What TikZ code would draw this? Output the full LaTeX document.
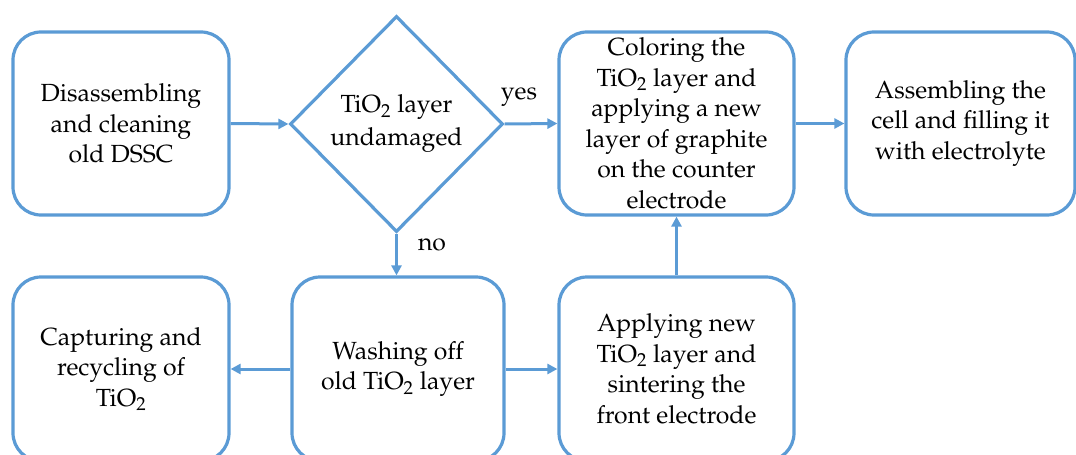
\documentclass[tikz,border=0pt]{standalone}
\usepackage[T1]{fontenc}
\usepackage{mathpazo}
\usetikzlibrary{shapes.geometric,arrows.meta}
\definecolor{flowblue}{RGB}{91,155,213}
\tikzset{
  stepbox/.style={draw=flowblue, line width=3.2pt, rounded corners=28pt, align=center,
    font=\fontsize{24.8}{30.5}\selectfont, inner sep=0pt, fill=white},
  decision/.style={draw=flowblue, line width=3.2pt, shape=diamond, align=center,
    font=\fontsize{24.8}{33}\selectfont, inner sep=0pt, minimum width=213pt, minimum height=216pt},
  flow/.style={draw=flowblue, line width=3pt, -{Triangle[length=10pt,width=10pt]}},
  lbl/.style={font=\fontsize{24.8}{30}\selectfont, inner sep=0pt}
}
\begin{document}
\begin{tikzpicture}[x=1pt,y=-1pt]
\useasboundingbox (0,0) rectangle (1076,455);
\clip (0,0) rectangle (1076,455);
\node[stepbox, minimum width=216pt, minimum height=183pt] (dis) at (121,123.5) {Disassembling\\and cleaning\\old DSSC};
\node[decision] (dec) at (396.5,124) {TiO$_2$ layer\\undamaged};
\node[stepbox, minimum width=235pt, minimum height=183pt] (col) at (676.5,123.5) {Coloring the\\TiO$_2$ layer and\\applying a new\\layer of graphite\\on the counter\\electrode};
\node[stepbox, minimum width=229pt, minimum height=183pt] (asm) at (960.5,123.5) {Assembling the\\cell and filling it\\with electrolyte};
\node[stepbox, minimum width=216pt, minimum height=184pt] (cap) at (121,369) {Capturing and\\recycling of\\TiO$_2$};
\node[stepbox, minimum width=212pt, minimum height=184pt] (wash) at (398,369) {Washing off\\old TiO$_2$ layer};
\node[stepbox, minimum width=235pt, minimum height=184pt] (app) at (676.5,369) {Applying new\\TiO$_2$ layer and\\sintering the\\front electrode};
\draw[flow] (dis.east) -- (dec.west);
\draw[flow] (dec.east) -- (col.west);
\draw[flow] (col.east) -- (asm.west);
\draw[flow] (dec.south) -- (dec.south |- wash.north);
\draw[flow] (wash.west) -- (cap.east);
\draw[flow] (wash.east) -- (app.west);
\draw[flow] (app.north) -- (col.south);
\node[lbl] (yes) at (519,97) {yes};
\node[lbl] (no) at (432,245) {no};
\end{tikzpicture}
\end{document}
